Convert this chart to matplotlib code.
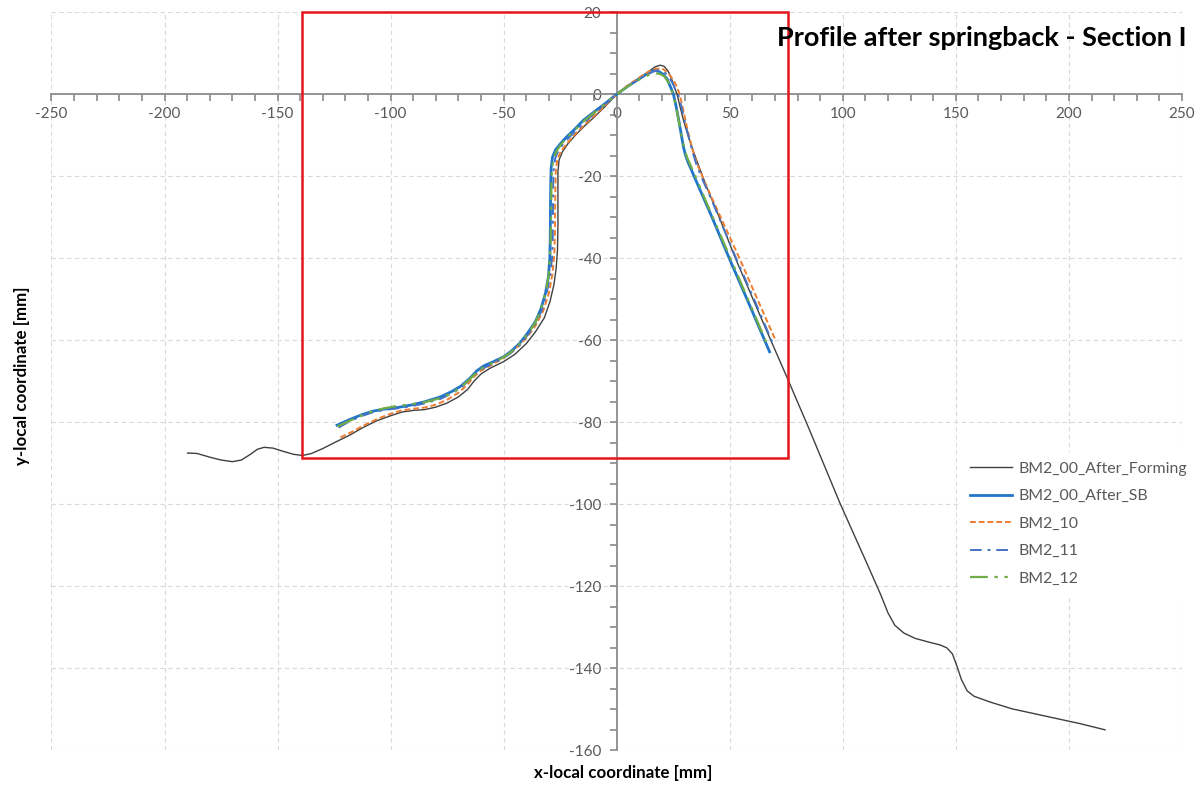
import matplotlib
matplotlib.use("Agg")
import matplotlib.pyplot as plt
from matplotlib.patches import Rectangle
from matplotlib.ticker import MultipleLocator

plt.rcParams['font.family'] = ['Lato', 'DejaVu Sans']
plt.rcParams['axes.unicode_minus'] = False

# ---- profile data (x, y in mm) ----
forming_x = [-189.8, -185.6, -180, -175, -170, -166, -162, -159, -156, -152, -148, -143, -139,
             -135, -130, -125, -118, -112, -106, -100, -95, -90, -85, -80, -75, -70, -66, -63,
             -60, -56, -50, -45, -40, -36, -32, -29.5, -27.8, -26.8, -26.2, -26.0, -26.0, -26.0,
             -25.5, -24.0, -21.5, -18, -14, -10, -5, 0, 5, 10, 14, 17, 19.2, 21, 22.8, 24.4,
             25.6, 26.7, 28, 29.5, 30.7, 31.7, 33, 34.5, 36.5, 39.9, 45, 52.2, 60, 68, 75.2,
             85, 98.8, 110, 116.5, 120, 123, 127, 132, 138, 143, 146, 148.5, 150.5, 152.5, 155,
             158, 165, 175, 190, 205, 216]
forming_y = [-87.5, -87.6, -88.5, -89.2, -89.6, -89.2, -87.8, -86.6, -86.1, -86.3, -87.0, -87.8,
             -88.1, -87.6, -86.4, -85.0, -83.1, -81.2, -79.6, -78.4, -77.5, -77.1, -76.9, -76.3,
             -75.3, -73.8, -72.0, -69.9, -68.2, -66.8, -65.2, -63.4, -60.8, -58.0, -54.5, -50.5,
             -46.5, -42.5, -38, -32, -25, -19, -16, -14, -12, -9.8, -7.6, -5.6, -2.9, 0, 2.0, 3.9,
             5.5, 6.7, 7.1, 6.8, 5.6, 3.5, 1.6, 0, -3, -6.3, -8.5, -10.3, -12.5, -14.8, -17.8,
             -22.8, -29.5, -39.6, -49.6, -59.8, -68.9, -81.5, -99.8, -113.6, -121.7, -126.5,
             -129.5, -131.4, -132.7, -133.6, -134.3, -135.0, -136.5, -139.5, -142.8, -145.5,
             -146.8, -148.2, -149.9, -151.7, -153.5, -155.0]

sb_x = [-123.7, -118, -113, -108, -103, -97, -91, -85, -78, -73, -69, -65, -62, -59, -54.5, -50,
        -47, -43, -39.5, -36, -33.5, -31.5, -30.2, -29.6, -29.4, -29.3, -29.2, -29.0, -28.4, -27,
        -24.5, -22, -18, -14.7, -10, -5, 0, 5, 10, 14, 16.5, 18.5, 20.5, 22.2, 23.8, 25.1, 26.3,
        27.5, 28.6, 29.5, 30.4, 31.5, 33, 34.3, 37, 42, 50, 60, 67.6]
sb_y = [-80.7, -79.3, -78.2, -77.3, -76.8, -76.4, -75.8, -75.0, -73.8, -72.5, -71.2, -69.3, -67.5,
        -66.3, -65.2, -64.0, -62.8, -60.8, -58.3, -55.5, -52.3, -48.5, -44.5, -40, -35, -28, -22,
        -18, -15.3, -13.5, -11.8, -10.3, -8.2, -6.3, -4.3, -2.2, 0, 2.0, 3.8, 5.2, 5.9, 5.6, 4.9,
        3.8, 1.8, 0, -3, -6.5, -10, -12.8, -14.8, -16.5, -18.4, -20.1, -23.5, -29.8, -40.3,
        -53.0, -62.8]

bm10_x = [-122.2, -117, -112, -106, -100, -95, -90, -85, -80, -75, -70, -66, -63, -60, -56, -50,
          -45, -40, -36, -32.5, -30, -28.5, -27.6, -27.3, -27.2, -27.0, -26.3, -24.8, -22, -18,
          -14, -10, -5, 0, 5, 10, 14, 17, 20, 22, 24, 25.5, 26.6, 27.8, 29, 30, 31, 32.5, 34, 36,
          38.5, 42, 54.3, 62, 70.1]
bm10_y = [-83.7, -82.3, -80.8, -79.2, -77.9, -77.1, -76.7, -76.4, -75.7, -74.5, -72.8, -70.8,
          -68.8, -67.4, -66.2, -64.3, -62.2, -59.5, -56.5, -52.8, -48.5, -44, -39, -33, -25, -19,
          -16, -14, -12, -9.5, -7.3, -5.3, -2.7, 0, 2.2, 4.1, 5.5, 6.2, 6.3, 5.6, 4.3, 3.0, 1.9,
          0, -2.8, -5.3, -7.9, -11.3, -14.4, -17.6, -20.8, -25.2, -40, -49.7, -59.8]

bm11_x = [-123, -118, -113, -108, -103, -97, -91, -85, -78, -73, -69, -65, -62, -59, -54.5, -50,
          -47, -43, -39.5, -36, -33, -31, -29.5, -28.6, -28.3, -28.2, -28.1, -27.9, -27.2, -25.8,
          -23.5, -21, -17.5, -14, -10, -5, 0, 5, 10, 14, 17, 19, 21, 23, 24.8, 26.2, 27.2, 28.5,
          29.5, 30.5, 32, 33.5, 35.3, 37.3, 42, 52.8, 61, 69.3]
bm11_y = [-81.3, -79.7, -78.5, -77.6, -77.0, -76.6, -76.1, -75.4, -74.3, -73.0, -71.6, -69.6,
          -67.9, -66.8, -65.6, -64.3, -63.2, -61.3, -58.8, -56.0, -52.5, -48.5, -44.5, -40, -35,
          -28, -22, -18.5, -15.6, -13.7, -12, -10.5, -8.6, -6.8, -4.7, -2.4, 0, 2.0, 3.8, 5.0,
          5.7, 5.9, 5.4, 4.4, 2.6, 0.8, 0, -2.8, -5.2, -7.5, -10.8, -14, -17.2, -20, -25.8, -40,
          -50.3, -61.1]

bm12_x = [-123.5, -118, -113, -108, -103, -97, -91, -85, -78, -73, -69, -65, -62, -59, -54.5, -50,
          -47, -43, -39.5, -36, -33.5, -31.5, -30.2, -29.5, -29.2, -29.0, -28.9, -28.7, -28.0,
          -26.6, -24.3, -21.5, -18, -14.5, -10, -5, 0, 5, 10, 14, 17, 19, 21, 22.8, 24.2, 25.3,
          26.5, 27.8, 29, 30, 31.2, 32.8, 34.8, 40, 50.3, 60, 67.0]
bm12_y = [-81.0, -79.6, -78.4, -77.3, -76.6, -76.0, -75.6, -75.1, -74.1, -72.9, -71.5, -69.5,
          -67.8, -66.6, -65.4, -64.1, -63.0, -61.0, -58.5, -55.7, -52.4, -48.5, -44.5, -40, -35,
          -28, -22, -18.5, -15.8, -13.8, -12, -10.3, -8.4, -6.5, -4.5, -2.3, 0, 2.0, 3.6, 4.7,
          5.1, 5.0, 4.4, 3.0, 1.0, -0.8, -3.8, -7.5, -11, -13.5, -15.5, -17.5, -20.0, -26.8,
          -40, -52.5, -61.6]

series_labels = ["BM2_00_After_Forming", "BM2_00_After_SB", "BM2_10", "BM2_11", "BM2_12"]

# highlighted region (x0, y0, x1, y1)
zoom_box = (-139, -88.7, 75.6, 20)

fig = plt.figure(figsize=(12.03, 7.87), dpi=100)
ax = fig.add_axes([0.0428, 0.0466, 0.9397, 0.9378])

ax.set_xlim(-250, 250)
ax.set_ylim(-160, 20)

# axes crossing at the origin
for s in ("top", "right"):
    ax.spines[s].set_visible(False)
for s in ("left", "bottom"):
    ax.spines[s].set_position(("data", 0))
    ax.spines[s].set_color("#8c8c8c")
    ax.spines[s].set_linewidth(1.3)

ax.xaxis.set_major_locator(MultipleLocator(50))
ax.xaxis.set_minor_locator(MultipleLocator(10))
ax.yaxis.set_major_locator(MultipleLocator(20))
ax.yaxis.set_minor_locator(MultipleLocator(5))
ax.tick_params(which="both", direction="out", length=5, width=1.1, color="#7f7f7f",
               labelsize=11, labelcolor="#595959")
ax.tick_params(axis="x", pad=4)
ax.tick_params(axis="y", pad=6)

ax.grid(True, which="major", linestyle=(0, (4, 3)), color="#d9d9d9", linewidth=0.8)
ax.set_axisbelow(True)

ax.plot(forming_x, forming_y, color="#404040", linewidth=1.0, label=series_labels[0], zorder=3)
ax.plot(sb_x, sb_y, color="#2176c7", linewidth=2.0, label=series_labels[1], zorder=3)
ax.plot(bm10_x, bm10_y, color="#ed7d31", linewidth=1.4, linestyle=(0, (3, 1.5)),
        label=series_labels[2], zorder=3)
ax.plot(bm11_x, bm11_y, color="#4472c4", linewidth=1.4, linestyle=(0, (6, 3, 1.5, 3)),
        label=series_labels[3], zorder=3)
ax.plot(bm12_x, bm12_y, color="#70ad47", linewidth=1.6, linestyle=(0, (8, 3, 1.5, 3, 1.5, 3)),
        label=series_labels[4], zorder=3)

x0, y0, x1, y1 = zoom_box
ax.add_patch(Rectangle((x0, y0), x1 - x0, y1 - y0, fill=False, edgecolor="#e3171b",
                       linewidth=1.8, clip_on=False, zorder=4))

leg = ax.legend(loc="upper left", bbox_to_anchor=(953 / 1203, 1 - 444 / 787),
                bbox_transform=fig.transFigure, frameon=True, fancybox=False,
                edgecolor="white", facecolor="white", framealpha=1.0,
                fontsize=11.4, handlelength=2.65, labelspacing=0.85, handletextpad=0.4,
                borderpad=0.6)
for t in leg.get_texts():
    t.set_color("#595959")

fig.text(1187 / 1203, 1 - 38 / 787, "Profile after springback - Section I", ha="right",
         va="center", fontsize=19.5, fontweight="bold", color="black")
fig.text(623 / 1203, 1 - 773 / 787, "x-local coordinate [mm]", ha="center", va="center",
         fontsize=12.2, fontweight="bold")
fig.text(22 / 1203, 1 - 376 / 787, "y-local coordinate [mm]", ha="center", va="center",
         rotation=90, fontsize=12.2, fontweight="bold")

fig.savefig("out.png", dpi=100)
